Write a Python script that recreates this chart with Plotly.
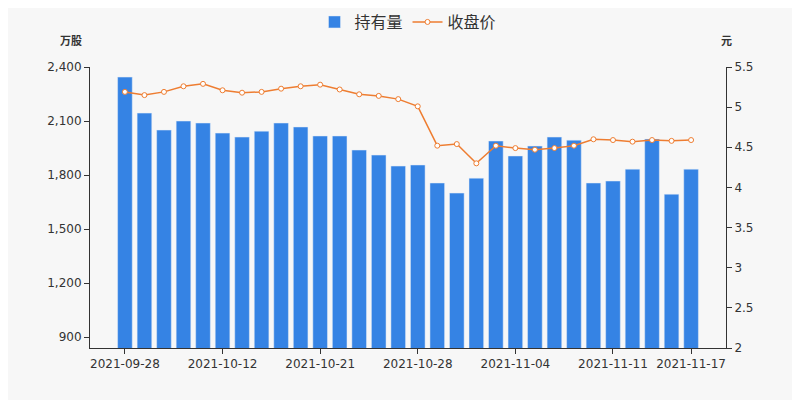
import plotly.graph_objects as go

dates = ["2021-09-28", "2021-09-29", "2021-09-30", "2021-10-08", "2021-10-11",
         "2021-10-12", "2021-10-13", "2021-10-14", "2021-10-15", "2021-10-19",
         "2021-10-21", "2021-10-22", "2021-10-25", "2021-10-26", "2021-10-27",
         "2021-10-28", "2021-10-29", "2021-11-01", "2021-11-02", "2021-11-03",
         "2021-11-04", "2021-11-05", "2021-11-08", "2021-11-09", "2021-11-10",
         "2021-11-11", "2021-11-12", "2021-11-15", "2021-11-16", "2021-11-17"]
holdings = [2344, 2144, 2050, 2100, 2089, 2033, 2011, 2044, 2089, 2067,
            2017, 2017, 1939, 1911, 1850, 1856, 1756, 1700, 1783, 1989,
            1906, 1961, 2011, 1994, 1756, 1767, 1833, 2000, 1694, 1833]
close = [5.19, 5.15, 5.19, 5.26, 5.29, 5.21, 5.18, 5.19, 5.23, 5.26,
         5.28, 5.22, 5.16, 5.14, 5.10, 5.01, 4.52, 4.54, 4.30, 4.52,
         4.49, 4.47, 4.49, 4.52, 4.60, 4.59, 4.57, 4.59, 4.58, 4.59]
tick_dates = ["2021-09-28", "2021-10-12", "2021-10-21", "2021-10-28",
              "2021-11-04", "2021-11-11", "2021-11-17"]

fig = go.Figure()
fig.add_trace(go.Bar(x=dates, y=holdings, name="持有量",
                     marker=dict(color="#3583e4"), yaxis="y"))
fig.add_trace(go.Scatter(x=dates, y=close, name="收盘价", yaxis="y2",
                         mode="lines+markers",
                         line=dict(color="#ee7d31", width=1.5),
                         marker=dict(size=5, color="white",
                                     line=dict(color="#ee7d31", width=1))))

fig.update_layout(
    width=800, height=400,
    paper_bgcolor="#f7f7f7", plot_bgcolor="#f7f7f7",
    font=dict(family="DejaVu Sans, sans-serif", size=12, color="#333"),
    margin=dict(l=82, r=82, t=59, b=60, autoexpand=False),
    bargap=0.25,
    legend=dict(orientation="h", x=0.5, xanchor="center", y=1.16, yanchor="middle",
                font=dict(size=16, family="Noto Sans CJK SC"), bgcolor="rgba(0,0,0,0)"),
    xaxis=dict(type="category", tickvals=tick_dates, ticktext=tick_dates,
               showgrid=False, showline=True, linecolor="#333", ticks="outside",
               ticklen=5, tickcolor="#333"),
    yaxis=dict(range=[840, 2400], tickvals=[900, 1200, 1500, 1800, 2100, 2400],
               tickformat=",", showgrid=False, showline=True, linecolor="#333",
               ticks="outside", ticklen=5, tickcolor="#333", zeroline=False),
    yaxis2=dict(range=[2, 5.5], dtick=0.5, overlaying="y", side="right",
                showgrid=False, showline=True, linecolor="#333",
                ticks="outside", ticklen=5, tickcolor="#333", zeroline=False),
    annotations=[
        dict(text="<b>万股</b>", xref="paper", yref="paper", x=-0.01, y=1.06,
             xanchor="right", yanchor="bottom", showarrow=False,
             font=dict(size=11, family="Noto Sans CJK SC")),
        dict(text="<b>元</b>", xref="paper", yref="paper", x=1.0, y=1.06,
             xanchor="center", yanchor="bottom", showarrow=False,
             font=dict(size=11, family="Noto Sans CJK SC")),
    ],
)

fig.write_html("out.html")
